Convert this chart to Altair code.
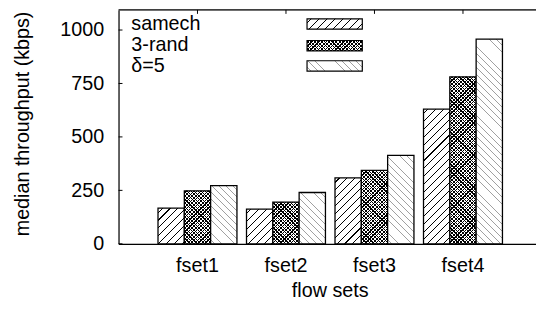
import altair as alt
import pandas as pd

categories = ["fset1", "fset2", "fset3", "fset4"]
series = ["samech", "3-rand", "δ=5"]
samech = [167, 162, 308, 630]
rand3 = [248, 195, 344, 781]
delta5 = [272, 240, 414, 957]
yticks = [0, 250, 500, 750, 1000]

W, H = 423, 237
YMAX = 1094
XRANGE = 429
BAR_W = 80 / 3
FONT = "Liberation Sans"
FS = 20

rows = []
for s, vals in zip(series, [samech, rand3, delta5]):
    for c, v in zip(categories, vals):
        rows.append({"cat": c, "series": s, "value": v})
df = pd.DataFrame(rows)


def stripes(w, h, spacing, thick, color, bg, direction):
    tot = w + h
    k = tot / (w * w + h * h)
    stops = [{"offset": 0, "color": bg}]
    pos = spacing / 2
    while pos + thick < tot:
        a = pos / tot
        b = (pos + thick) / tot
        stops += [{"offset": a, "color": bg}, {"offset": a, "color": color},
                  {"offset": b, "color": color}, {"offset": b, "color": bg}]
        pos += spacing
    stops.append({"offset": 1, "color": bg})
    if direction == "/":
        x1, y1, x2, y2 = 0, 0, w * k, h * k
    else:
        x1, y1, x2, y2 = 0, 1, w * k, 1 - h * k
    return {"gradient": "linear", "x1": x1, "y1": y1, "x2": x2, "y2": y2, "stops": stops}


styles = {
    "samech": [(8, 1.1, "black", "white", "/")],
    "3-rand": [(3.6, 1.2, "black", "white", "/"), (3.6, 1.2, "black", "rgba(0,0,0,0)", "\\")],
    "δ=5": [(7, 0.9, "#a0a0a0", "white", "\\")],
}

xscale = alt.Scale(domain=categories, range=[0, XRANGE], paddingInner=0.108, paddingOuter=0.446)
oscale = alt.Scale(domain=series, paddingInner=0, paddingOuter=0)
yscale = alt.Scale(domain=[0, YMAX], nice=False, zero=True)

xaxis = alt.Axis(title="flow sets", labelFontSize=FS, labelColor="black", labelFont=FONT,
                 ticks=False, tickSize=0, labelPadding=28, labelBaseline="alphabetic",
                 labelAngle=0, domainColor="black", domainWidth=1.2, grid=False,
                 titleFontSize=FS, titleFontWeight="normal", titleColor="black", titleFont=FONT,
                 titleX=214, titleY=53, titleBaseline="alphabetic", titleAlign="center")
yaxis = alt.Axis(title="median throughput (kbps)", values=yticks, format="d", ticks=False, tickSize=0,
                 labelPadding=15, labelFontSize=FS, labelColor="black", labelFont=FONT,
                 domainColor="black", domainWidth=1.2, grid=False,
                 titleFontSize=FS, titleFontWeight="normal", titleColor="black", titleFont=FONT,
                 titleX=-91, titleY=115, titleAngle=270, titleBaseline="alphabetic", titleAlign="center")

enc = dict(
    x=alt.X("cat:N", scale=xscale, axis=xaxis),
    xOffset=alt.XOffset("series:N", scale=oscale),
    y=alt.Y("value:Q", scale=yscale, axis=yaxis),
)

layers = []
for s, vals in zip(series, [samech, rand3, delta5]):
    for c, v in zip(categories, vals):
        h = v / YMAX * H
        st = styles[s]
        for i, (sp, th, col, bg, d) in enumerate(st):
            last = i == len(st) - 1
            mk = dict(fill=stripes(BAR_W, h, sp, th, col, bg, d))
            if last:
                mk.update(stroke="black", strokeWidth=1.3)
            else:
                mk.update(strokeWidth=0)
            layers.append(
                alt.Chart(df).transform_filter(
                    (alt.datum.series == s) & (alt.datum.cat == c)
                ).mark_bar(**mk).encode(**enc)
            )

one = pd.DataFrame({"k": [0]})
# top border
layers.append(alt.Chart(one).mark_rule(color="black", strokeWidth=1.2).encode(
    x=alt.value(0), x2=alt.value(W), y=alt.value(0)))
# top mirrored ticks at category centres
layers.append(alt.Chart(pd.DataFrame({"cat": categories})).mark_rule(color="black", strokeWidth=1).encode(
    x=alt.X("cat:N", scale=xscale, axis=xaxis), y=alt.value(0), y2=alt.value(4)))
# left inward ticks
layers.append(alt.Chart(pd.DataFrame({"value": yticks})).mark_rule(color="black", strokeWidth=1).encode(
    y=alt.Y("value:Q", scale=yscale, axis=yaxis), x=alt.value(0), x2=alt.value(4)))

# legend
text_base = [20, 41.5, 63]
sw_top = [9, 31, 51.5]
for i, s in enumerate(series):
    layers.append(alt.Chart(one).mark_text(align="left", baseline="alphabetic", font=FONT,
                                           fontSize=FS, color="black").encode(
        x=alt.value(13), y=alt.value(text_base[i]), text=alt.value(s)))
    st = styles[s]
    for j, (sp, th, col, bg, d) in enumerate(st):
        last = j == len(st) - 1
        mk = dict(fill=stripes(56, 10.5, sp, th, col, bg, d))
        if last:
            mk.update(stroke="black", strokeWidth=1.2)
        else:
            mk.update(strokeWidth=0)
        layers.append(alt.Chart(one).mark_rect(**mk).encode(
            x=alt.value(191), x2=alt.value(247), y=alt.value(sw_top[i]), y2=alt.value(sw_top[i] + 10.5)))

chart = alt.layer(*layers).properties(
    width=W, height=H,
    padding={"left": 112, "top": 0, "right": 0, "bottom": 57},
    autosize=alt.AutoSizeParams(type="none"),
).configure_view(stroke=None).configure(font=FONT)

chart.save("out.html", embed_options={"renderer": "svg", "actions": False})
